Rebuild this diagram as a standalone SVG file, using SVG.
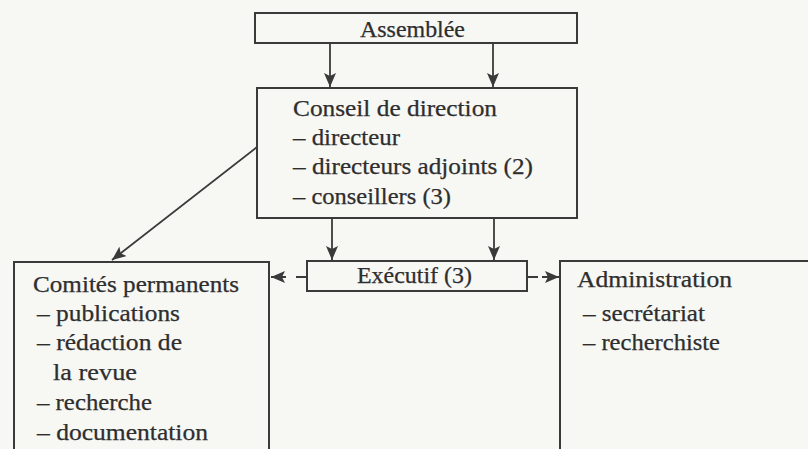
<svg xmlns="http://www.w3.org/2000/svg" width="808" height="449" viewBox="0 0 808 449">
<defs>
<style>
.box{fill:none;stroke:#3a3a3a;stroke-width:2}
.t{font-family:"Liberation Serif","Times New Roman",serif;font-size:23px;fill:#2e2e2e;stroke:#2e2e2e;stroke-width:0.25}
.c{fill:none;stroke:#3a3a3a;stroke-width:1.8}
</style>
<marker id="ah" markerUnits="userSpaceOnUse" markerWidth="16" markerHeight="12" refX="14" refY="6" orient="auto">
<path d="M0,0 L14,6 L0,12 L3,6 Z" fill="#3a3a3a"/>
</marker>
</defs>
<rect width="808" height="449" fill="#f7f7f4"/>
<g id="connectors">
<line class="c" x1="330" y1="43" x2="330" y2="87" marker-end="url(#ah)"/>
<line class="c" x1="493" y1="43" x2="493" y2="87" marker-end="url(#ah)"/>
<line class="c" x1="332" y1="218" x2="332" y2="260" marker-end="url(#ah)"/>
<line class="c" x1="494" y1="218" x2="494" y2="260" marker-end="url(#ah)"/>
<line class="c" x1="257" y1="147" x2="112" y2="260" marker-end="url(#ah)"/>
<path class="c" d="M307,277 H271" stroke-dasharray="11 10 100" marker-end="url(#ah)"/>
<path class="c" d="M527,277 H559" stroke-dasharray="11 4 100" marker-end="url(#ah)"/>
</g>
<g id="assemblee">
<rect class="box" x="255" y="13" width="322" height="30"/>
<text class="t" x="360" y="37" textLength="105" lengthAdjust="spacingAndGlyphs">Assemblée</text>
</g>
<g id="conseil">
<rect class="box" x="257" y="88" width="320" height="130"/>
<text class="t" x="293" y="116" textLength="204" lengthAdjust="spacingAndGlyphs">Conseil de direction</text>
<text class="t" x="293" y="145" textLength="107" lengthAdjust="spacingAndGlyphs">– directeur</text>
<text class="t" x="293" y="174" textLength="240" lengthAdjust="spacingAndGlyphs">– directeurs adjoints (2)</text>
<text class="t" x="293" y="204" textLength="158" lengthAdjust="spacingAndGlyphs">– conseillers (3)</text>
</g>
<g id="executif">
<rect class="box" x="307" y="261" width="220" height="30"/>
<text class="t" x="357" y="283" textLength="115" lengthAdjust="spacingAndGlyphs">Exécutif (3)</text>
</g>
<g id="comites">
<rect class="box" x="14" y="262" width="255" height="200"/>
<text class="t" x="33" y="292" textLength="206" lengthAdjust="spacingAndGlyphs">Comités permanents</text>
<text class="t" x="37" y="321" textLength="143" lengthAdjust="spacingAndGlyphs">– publications</text>
<text class="t" x="37" y="350" textLength="145" lengthAdjust="spacingAndGlyphs">– rédaction de</text>
<text class="t" x="53" y="380" textLength="84" lengthAdjust="spacingAndGlyphs">la revue</text>
<text class="t" x="37" y="410" textLength="115" lengthAdjust="spacingAndGlyphs">– recherche</text>
<text class="t" x="37" y="440" textLength="171" lengthAdjust="spacingAndGlyphs">– documentation</text>
</g>
<g id="administration">
<rect class="box" x="560" y="261" width="260" height="200"/>
<text class="t" x="577" y="287" textLength="155" lengthAdjust="spacingAndGlyphs">Administration</text>
<text class="t" x="583" y="321" textLength="122" lengthAdjust="spacingAndGlyphs">– secrétariat</text>
<text class="t" x="583" y="350" textLength="137" lengthAdjust="spacingAndGlyphs">– recherchiste</text>
</g>
</svg>
